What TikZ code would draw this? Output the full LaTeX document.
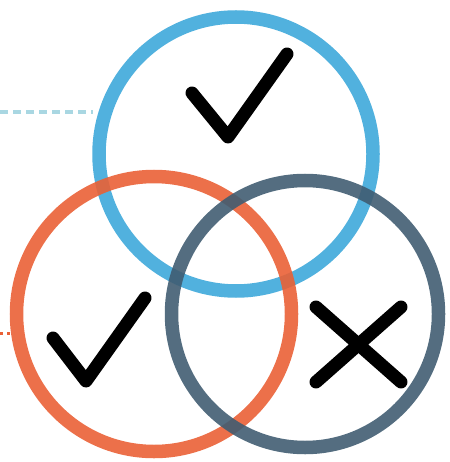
\documentclass[tikz,border=0pt]{standalone}
\begin{document}
\begin{tikzpicture}[x=1pt,y=-1pt,
  ring/.style={line width=13.5pt, draw opacity=0.9},
  symline/.style={line width=13pt, line cap=round, line join=round, black}]
\definecolor{cblue}{HTML}{3EA8DA}
\definecolor{corange}{HTML}{EA6136}
\definecolor{cslate}{HTML}{415D72}
\definecolor{cdash}{HTML}{A9D7E2}
\useasboundingbox (0,0) rectangle (449,462);
\coordinate (cb) at (236,154);
\coordinate (co) at (154,314);
\coordinate (cs) at (305,314);
\draw[cdash, line width=3.5pt, dash pattern=on 8pt off 5pt] (0,112) coordinate (d1) -- (93,112) coordinate (d2);
\draw[corange, line width=3pt, dash pattern=on 3pt off 4pt] (0,333) coordinate (e1) -- (14,333) coordinate (e2);
\draw[ring, cblue] (cb) circle (137);
\draw[ring, corange] (co) circle (137.5);
\draw[ring, cslate] (cs) circle (133.5);
\draw[symline] (192,93) coordinate (a1) -- (228,137) coordinate (a2) -- (287,54) coordinate (a3);
\draw[symline] (53,338) coordinate (b1) -- (86,381) coordinate (b2) -- (145,298) coordinate (b3);
\draw[symline] (316,307) coordinate (x1) -- (401,382) coordinate (x2);
\draw[symline] (401,307) coordinate (x3) -- (316,382) coordinate (x4);
\end{tikzpicture}
\end{document}
